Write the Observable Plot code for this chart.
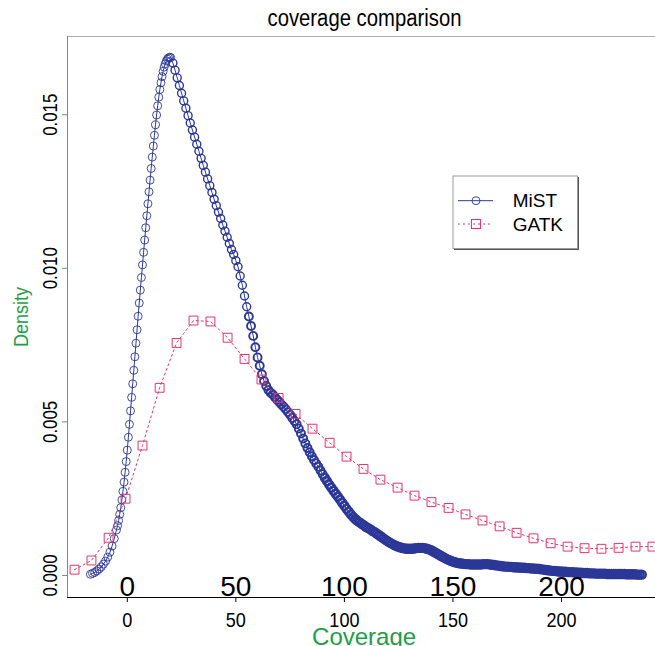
<!DOCTYPE html>
<html><head><meta charset="utf-8">
<script src="https://cdn.jsdelivr.net/npm/d3@7"></script>
<script src="https://cdn.jsdelivr.net/npm/@observablehq/plot@0.6"></script>
<style>
body{margin:0;background:#fff;}
#wrap{position:relative;width:655px;height:646px;overflow:hidden;background:#fff;}
#wrap svg{display:block;}
</style></head><body>
<div id="wrap"></div>
<script>
const title = "coverage comparison";
const xLabel = "Coverage";
const yLabel = "Density";
const seriesNames = ["MiST", "GATK"];
const xTicks = [0, 50, 100, 150, 200];
const yTicks = [0, 0.005, 0.010, 0.015];

// GATK density (y in units of 1e-5)
const gatkX = [-24.3,-16.5,-8.6,-0.8,7.0,14.9,22.7,30.5,38.3,46.2,54.0,61.8,69.7,77.5,85.3,93.2,101.0,108.8,116.6,124.5,132.3,140.1,148.0,155.8,163.6,171.5,179.3,187.1,195.0,202.8,210.6,218.4,226.3,234.1,241.9];
const gatkY = [19,49,123,250,423,611,757,830,827,774,705,638,578,526,478,432,387,347,312,286,260,239,220,199,179,160,139,121,105,94,89,87,90,94,94];

// MiST density (y in units of 1e-5)
const mistX = [-17,-16,-15,-14,-13,-12,-11,-10,-9,-8,-7,-6,-5,
-4.5,-4,-3.5,-3,-2.5,-2,-1.5,-1,-0.5,0,
0.5,1,1.5,2,2.5,3,3.5,4,4.5,5,5.5,6,6.5,7,7.5,8,8.5,9,9.5,10,10.5,11,11.5,12,12.5,13,13.5,14,14.5,15,15.5,16,16.5,17,17.5,18,18.5,19,19.5,20,
21,22,23,24,25,26,27,28,29,30,31,32,33,34,35,36,37,38,39,40,41,42,43,44,45,46,47,48,49,
50,51,52,53,54,55,56,57,58,59,60,61,62,63,64,65,66,67,68,69,70,71,72,73,74,75,76,77,78,79,
80,81,82,83,84,85,86,87,88,89,90,91,92,93,94,95,96,97,98,99,100,101,102,103,104,105,106,107,108,109,
110,111,112,113,114,115,116,117,118,119,120,121,122,123,124,125,126,127,128,129,130,131,132,133,134,135,136,137,138,139,
140,141,142,143,144,145,146,147,148,149,150,151,152,153,154,155,156,157,158,159,160,161,162,163,164,165,166,167,168,169,
170,171,172,173,174,175,176,177,178,179,180,181,182,183,184,185,186,187,188,189,190,191,192,193,194,195,196,197,198,199,
200,201,202,203,204,205,206,207,208,209,210,211,212,213,214,215,216,217,218,219,220,221,222,223,224,225,226,227,228,229,
230,231,232,233,234,235,236,237];
const mistY = [4,7,10,15,21,28,37,47,60,76,96,120,148,
162,179,199,221,246,274,304,336,371,408,
450,492,536,580,624,668,712,756,800,844,887,929,970,1011,1052,1092,1132,1171,1210,1249,1287,1325,1362,1398,1433,1467,1499,1529,1557,1582,1604,1624,1641,1655,1666,1675,1681,1685,1687,1686,
1668,1645,1620,1595,1570,1545,1521,1497,1473,1450,1427,1404,1381,1358,1335,1313,1291,1269,1247,1225,1204,1183,1162,1141,1121,1101,1081,1061,1045,
1025,1005,975,945,910,875,843,812,780,743,710,683,655,633,617,604,595,589,580,572,565,557,549,541,532,523,513,503,492,478,
462,446,430,415,401,388,376,365,354,342,330,318,307,296,286,276,266,257,247,237,227,217,208,199,191,184,178,173,168,163,
158,154,150,145,141,136,131,126,121,116,111,107,103,99,96,93,91,89,88,87,87,87,88,89,90,90,90,89,87,85,
82,78,74,70,66,62,58,54,51,48,45,43,41,40,39,38,37,37,36,36,36,36,36,36,37,37,37,36,35,34,
33,32,31,30,29,29,28,28,27,27,26,26,25,25,24,24,23,23,22,22,21,20,19,18,17,16,15,15,14,13,
13,12,12,11,11,11,10,10,9,9,8,8,8,7,7,7,6,6,6,6,6,5,5,5,5,5,5,5,5,5,
4,4,4,4,4,3,3,3];

const blue = "#2c3898";
const pink = "#e8336d";
const green = "#1f9d4a";
const axisGrey = "#6f9090";
const font = "'Liberation Sans', Arial, sans-serif";

const mist = mistX.map((x, i) => ({x, y: mistY[i] / 1e5}));
const gatk = gatkX.map((x, i) => ({x, y: gatkY[i] / 1e5}));

const chart = Plot.plot({
  width: 655, height: 646,
  marginLeft: 67, marginRight: 0, marginTop: 36, marginBottom: 49,
  x: {domain: [-27.54, 243.3]},
  y: {domain: [-0.000716, 0.017546]},
  style: {fontFamily: font, background: "#fff", color: "#000", overflow: "hidden"},
  marks: [
    Plot.frame({anchor: "top", stroke: "#b0b0b0"}),
    Plot.frame({anchor: "left", stroke: axisGrey}),
    Plot.frame({anchor: "bottom", stroke: "#000"}),
    Plot.axisX({ticks: xTicks, tickSize: 5, tickPadding: 10, fontSize: 21, label: null}),
    Plot.axisY({ticks: yTicks, tickFormat: d3.format(".3f"), tickRotate: -90, tickSize: 5, tickPadding: 6,
                fontSize: 20, stroke: axisGrey, fill: "#000", label: null}),
    Plot.line(mist, {x: "x", y: "y", stroke: blue, strokeWidth: 1}),
    Plot.dot(mist, {x: "x", y: "y", r: 4, stroke: blue,
                    strokeWidth: d => (d.x > 90 ? 2.4 : d.x > 55 ? 1.9 : d.x > 20 ? 1.4 : 0.9), fill: "none"}),
    Plot.line(gatk, {x: "x", y: "y", stroke: pink, strokeWidth: 1, strokeDasharray: "2,3"}),
    Plot.dot(gatk, {x: "x", y: "y", symbol: "square", r: 5, stroke: pink, strokeWidth: 1, fill: "none"}),
    Plot.text(xTicks, {x: d => d, text: d => String(d), frameAnchor: "bottom", lineAnchor: "bottom", dy: -2, fontSize: 28}),
    Plot.text([title], {text: d => d, frameAnchor: "top", textAnchor: "middle", lineAnchor: "bottom", dy: -11, dx: 3, fontSize: 23}),
    Plot.text([xLabel], {text: d => d, frameAnchor: "bottom", textAnchor: "middle", lineAnchor: "bottom", dy: 47, dx: 2.6, fontSize: 24, fill: green}),
    Plot.text([yLabel], {text: d => d, frameAnchor: "left", textAnchor: "middle", lineAnchor: "middle", rotate: -90, dx: -46, fontSize: 20, fill: green})
  ]
});

const wrap = document.getElementById("wrap");
wrap.appendChild(chart);

// narrow the condensed-looking texts of the reference (keeps them as real text)
function condense(nodes, factor) {
  nodes.forEach(t => {
    const w = t.getComputedTextLength();
    if (w > 0) {
      t.setAttribute("textLength", (w * factor).toFixed(1));
      t.setAttribute("lengthAdjust", "spacingAndGlyphs");
    }
  });
}
const svgSel = d3.select(chart);
condense(svgSel.selectAll('g[aria-label="x-axis tick label"] text').nodes(), 0.86);
condense(svgSel.selectAll('g[aria-label="y-axis tick label"] text').nodes(), 0.84);
svgSel.selectAll("text").nodes().forEach(t => {
  if (t.textContent === title) {
    t.setAttribute("textLength", "194");
    t.setAttribute("lengthAdjust", "spacingAndGlyphs");
  }
  if (t.textContent === yLabel) condense([t], 0.9);
});

// Legend overlay
const leg = d3.select(wrap).append("svg")
  .attr("width", 655).attr("height", 646)
  .style("position", "absolute").style("left", "0px").style("top", "0px")
  .style("pointer-events", "none");
const g = leg.append("g").attr("transform", "translate(453,176)");
g.append("rect").attr("x", 1).attr("y", 1).attr("width", 125).attr("height", 73).attr("fill", "#555");
g.append("rect").attr("x", 0).attr("y", 0).attr("width", 124.5).attr("height", 72.5)
  .attr("fill", "#fff").attr("stroke", "#9a9a9a").attr("stroke-width", 1);
const items = [
  {name: seriesNames[0], color: blue, dash: null, sym: "circle", cy: 24.7},
  {name: seriesNames[1], color: pink, dash: "2,3", sym: "square", cy: 48}
];
items.forEach(it => {
  g.append("line").attr("x1", 5).attr("x2", 40).attr("y1", it.cy).attr("y2", it.cy)
    .attr("stroke", it.color).attr("stroke-width", 1).attr("stroke-dasharray", it.dash);
  if (it.sym === "circle") {
    g.append("circle").attr("cx", 23).attr("cy", it.cy).attr("r", 4).attr("fill", "none")
      .attr("stroke", it.color).attr("stroke-width", 0.9);
  } else {
    g.append("rect").attr("x", 23 - 4.5).attr("y", it.cy - 4.5).attr("width", 9).attr("height", 9)
      .attr("fill", "none").attr("stroke", it.color).attr("stroke-width", 1);
  }
  g.append("text").attr("x", 59.7).attr("y", it.cy + 6.6).attr("font-size", 19)
    .attr("font-family", font).attr("fill", "#000").text(it.name);
});
</script>
</body></html>
